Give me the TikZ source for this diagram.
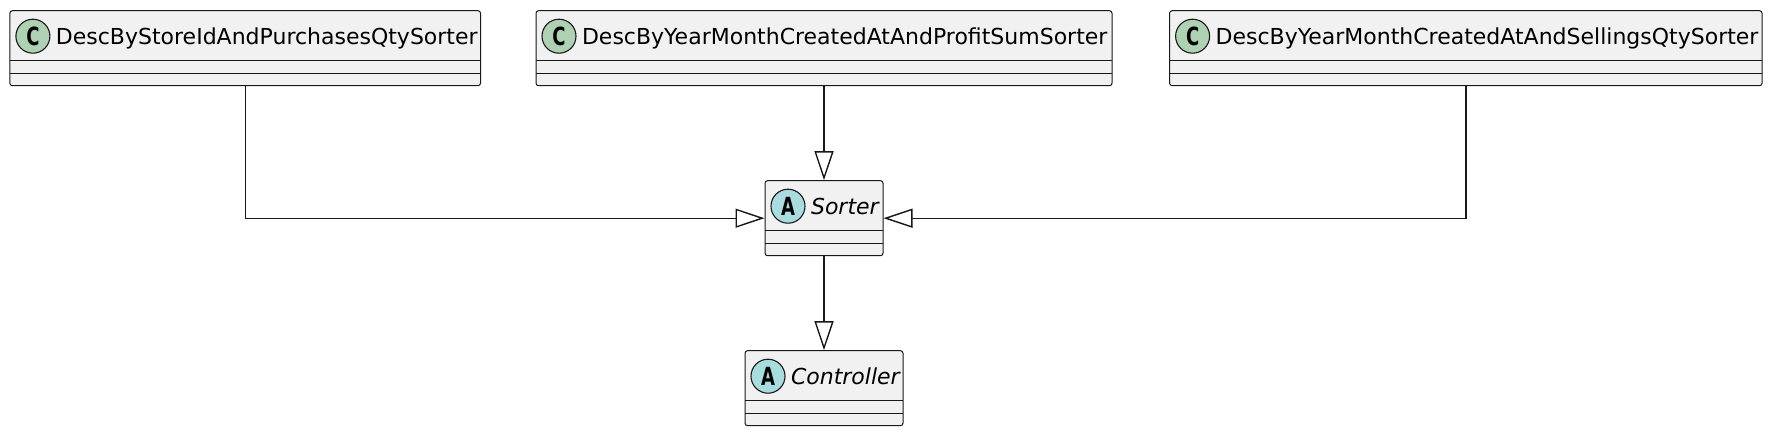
\documentclass[tikz,border=0pt]{standalone}
\usepackage{fontspec}
\setmainfont{DejaVu Sans}
\usepackage{xcolor}
\definecolor{umlline}{HTML}{181818}
\definecolor{umlfill}{HTML}{F1F1F1}
\definecolor{clsgreen}{HTML}{ADD1B2}
\definecolor{absblue}{HTML}{A9DCDF}
\usepackage{tikz}
\usetikzlibrary{arrows.meta,positioning,calc}

\begin{document}
\begin{tikzpicture}[x=1pt,y=1pt,>={Triangle[open,length=29pt,width=19pt]},node distance=94pt,line width=1pt,font=\fontsize{22}{26}\selectfont]
              \tikzstyle{cls}=[draw=umlline,fill=umlfill,rounded corners=2.5pt,minimum height=75pt,inner sep=0pt,
                 path picture={\draw[umlline,line width=1pt]
                   ([yshift=-50pt]path picture bounding box.north west) -- ([yshift=-50pt]path picture bounding box.north east)
                   ([yshift=-62.5pt]path picture bounding box.north west) -- ([yshift=-62.5pt]path picture bounding box.north east);}]
              \tikzstyle{icon}=[circle,draw=umlline,minimum size=34pt,inner sep=0pt,line width=1.1pt,font=\fontsize{25}{25}\selectfont\bfseries]
              \tikzstyle{title}=[inner sep=0pt,text height=17pt,text depth=0pt]
              \tikzstyle{e}=[->,color=umlline,line width=1.4pt]

              \useasboundingbox (0,0) rectangle (1771,-432);

              \node[cls,minimum width=576pt]    (profit)                      at (824,-48.2) {};
              \node[cls,minimum width=470.6pt]  (store)    [left=54.5pt of profit]  {};
              \node[cls,minimum width=592.4pt]  (sellings) [right=56.6pt of profit] {};
              \node[cls,minimum width=118pt]    (sorter)   [below=of profit]        {};
              \node[cls,minimum width=158pt]    (controller) [below=of sorter]      {};

              \node[icon,fill=clsgreen] (storeC)    at ([shift={(23.5,-26)}]store.north west)      {\scalebox{0.72}[1]{C}};
              \node[icon,fill=clsgreen] (profitC)   at ([shift={(23.5,-26)}]profit.north west)     {\scalebox{0.72}[1]{C}};
              \node[icon,fill=clsgreen] (sellingsC) at ([shift={(23.5,-26)}]sellings.north west)   {\scalebox{0.72}[1]{C}};
              \node[icon,fill=absblue]  (sorterA)   at ([shift={(23.5,-26)}]sorter.north west)     {\scalebox{0.72}[1]{A}};
              \node[icon,fill=absblue]  (controllerA) at ([shift={(23.5,-26)}]controller.north west) {\scalebox{0.72}[1]{A}};

              \node[title] (storeT)      [right=5pt of storeC]      {DescByStoreIdAndPurchasesQtySorter};
              \node[title] (profitT)     [right=5pt of profitC]     {DescByYearMonthCreatedAtAndProfitSumSorter};
              \node[title] (sellingsT)   [right=5pt of sellingsC]   {DescByYearMonthCreatedAtAndSellingsQtySorter};
              \node[title] (sorterT)     [right=5pt of sorterA]     {\itshape Sorter};
              \node[title] (controllerT) [right=5pt of controllerA] {\itshape Controller};

              \path (profit) edge[e] (sorter)
                    (sorter) edge[e] (controller);
              \draw[e] (store) |- (sorter);
              \draw[e] (sellings) |- (sorter);

\end{tikzpicture}
\end{document}
